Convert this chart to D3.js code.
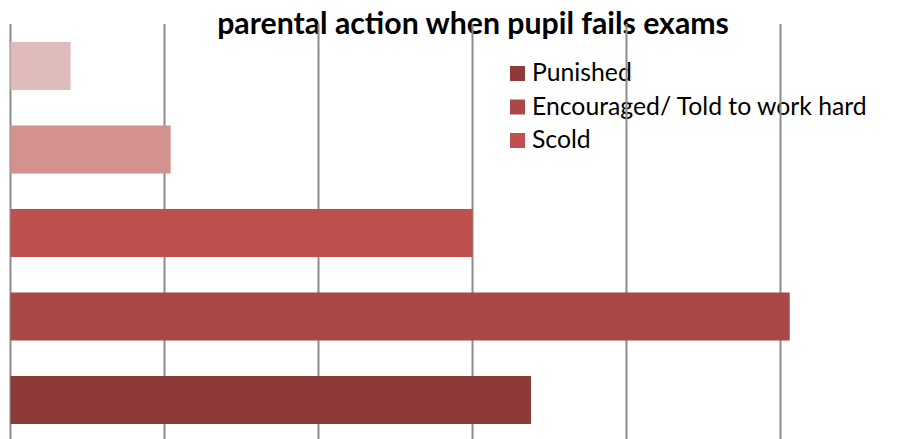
<!DOCTYPE html>
<html>
<head>
<meta charset="utf-8">
<script src="https://cdn.jsdelivr.net/npm/d3@7"></script>
<style>
  body { margin: 0; background: #fff; }
  text { font-family: Lato, "Open Sans", sans-serif; }
</style>
</head>
<body>
<script>
//bar data, bottom bar first
var categories = ["Punished", "Encouraged/ Told to work hard", "Scold", "Other 1", "Other 2"];
var values = [33.8, 50.6, 30.0, 10.4, 3.9];
var colors = ["#8E3A38", "#A94846", "#C0504D", "#D3918F", "#E0BBBB"];
//only these show in the legend
var legendKeys = ["Punished", "Encouraged/ Told to work hard", "Scold"];
var tickValues = [0, 10, 20, 30, 40, 50, 60];

var width = 923,
    height = 439;

var svg = d3.select("body")
    .append("svg")
    .attr("width", width)
    .attr("height", height);

//x scale: 10 units per gridline
var x = d3.scaleLinear()
    .domain([0, 60])
    .range([10.5, 934.5]);

//top bar is the last category
var y = d3.scaleBand()
    .domain(categories.slice().reverse())
    .range([42, 424])
    .paddingInner(0.425)
    .paddingOuter(0);

//shrink or grow a font so the text spans the wanted width
function fitWidth(sel, target){
    sel.each(function(){
        var w = this.getComputedTextLength();
        var fs = parseFloat(d3.select(this).style("font-size"));
        d3.select(this).style("font-size", (fs * target / w) + "px");
    });
}

//title
var title = svg.append("text")
    .attr("x", 473)
    .attr("y", 34)
    .attr("text-anchor", "middle")
    .style("font-weight", "bold")
    .style("font-size", "24px")
    .text("parental action when pupil fails exams");
fitWidth(title, 512);

//legend
var legend = svg.selectAll(".legend")
    .data(legendKeys)
    .enter()
    .append("g")
    .attr("class", "legend")
    .attr("transform", function(d, i){ return "translate(510," + (66 + i * 33.5) + ")"; });

legend.append("rect")
    .attr("width", 15)
    .attr("height", 15)
    .attr("fill", function(d){ return colors[categories.indexOf(d)]; });

var legendText = legend.append("text")
    .attr("x", 22)
    .attr("y", 15)
    .style("font-size", "20px")
    .text(function(d){ return d; });
//size all entries from the longest one
var longest = legendText.filter(function(d){ return d == "Encouraged/ Told to work hard"; });
var fs0 = 20 * 335 / longest.node().getComputedTextLength();
legendText.style("font-size", fs0 + "px");

//vertical gridlines
svg.selectAll(".grid")
    .data(tickValues)
    .enter()
    .append("line")
    .attr("class", "grid")
    .attr("x1", function(d){ return x(d); })
    .attr("x2", function(d){ return x(d); })
    .attr("y1", 24)
    .attr("y2", height)
    .attr("stroke", "#8c8c8c")
    .attr("stroke-width", 2);

//bars
svg.selectAll(".bar")
    .data(values)
    .enter()
    .append("rect")
    .attr("class", "bar")
    .attr("x", x(0))
    .attr("y", function(d, i){ return y(categories[i]); })
    .attr("width", function(d){ return x(d) - x(0); })
    .attr("height", y.bandwidth())
    .attr("fill", function(d, i){ return colors[i]; });
</script>
</body>
</html>
